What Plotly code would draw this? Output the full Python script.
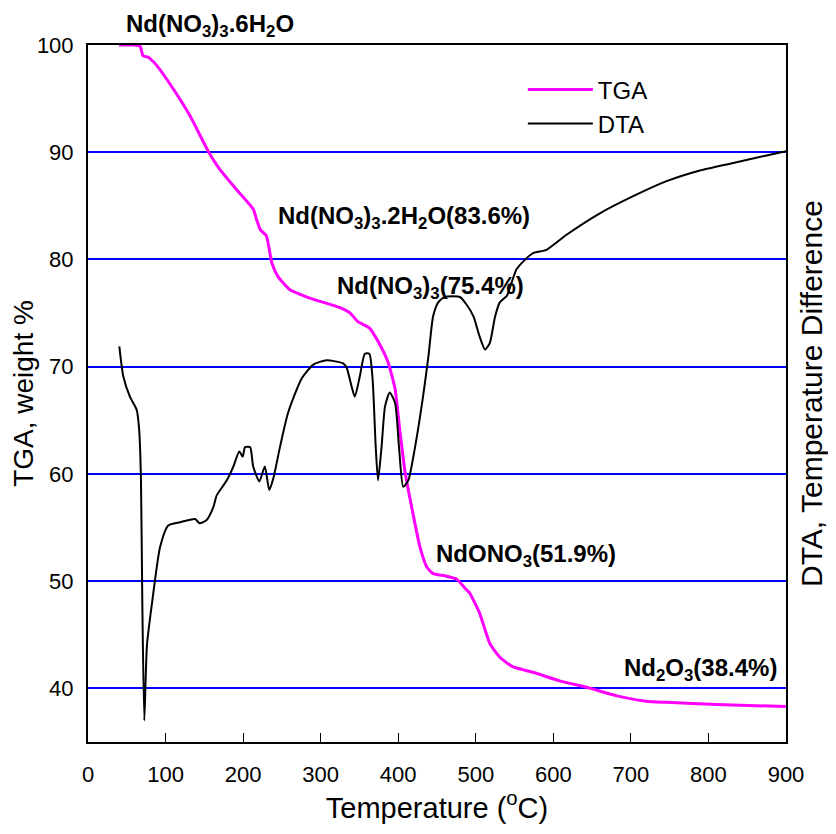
import plotly.graph_objects as go

# TGA (weight %) vs temperature (°C)
tga_T = [40, 58, 67, 71, 77.8, 82, 88.5, 110, 131.5, 155, 170, 191.7, 213, 217.5, 222, 230, 237, 245,
         260, 286, 325, 338, 348, 363, 376, 387, 396, 402, 409, 419, 428, 437, 445,
         460, 475, 488, 492, 505, 518, 531, 548, 574, 608, 643, 682, 720, 746, 811, 900]
tga_W = [100, 100, 99.9, 99.0, 98.85, 98.6, 98.1, 95.9, 93.4, 90.1, 88.4, 86.5, 84.7, 83.7, 82.8, 82.2, 79.7, 78.4,
         77.2, 76.4, 75.5, 75.0, 74.2, 73.6, 72.1, 70.4, 67.9, 64.1, 60.1, 56.3, 53.2, 51.3, 50.7,
         50.5, 50.2, 49.2, 48.9, 47.0, 44.2, 42.9, 42.0, 41.5, 40.7, 40.1, 39.3, 38.8, 38.7, 38.5, 38.3]

# DTA (temperature difference, arbitrary units) vs temperature (°C)
dta_T = [40.4, 45.5, 54, 62.7, 66, 68.3, 70, 72.6, 76, 83, 93, 103.5, 118.6, 138, 144, 153, 161.6, 166,
         179, 187.5, 195, 199.5, 202.5, 209, 213, 221, 228, 233.7, 239, 247.5, 258, 275.5, 290.5,
         307.7, 329, 333.5, 338.7, 344, 350.5, 357, 362.7, 367, 371, 374, 378.5, 383, 389, 396, 401,
         406.5, 413, 419.5, 432, 439, 445, 451.6, 460, 479.6, 488, 497, 505, 512, 518, 525, 531, 540,
         546, 552.7, 561, 574, 591, 617, 660, 703, 746, 789, 832, 875, 900]
dta_V = [71.9, 69.1, 67.2, 66.0, 64.1, 59.4, 48.2, 37.0, 44.0, 48.2, 53.2, 55.2, 55.5, 55.8, 55.4, 55.7, 56.9, 58.0,
         59.4, 60.7, 62.1, 61.6, 62.5, 62.5, 60.7, 59.3, 60.7, 58.5, 59.6, 62.5, 65.7, 68.9, 70.2,
         70.6, 70.3, 69.9, 68.5, 67.2, 69.1, 71.2, 71.2, 68.8, 62.5, 59.4, 62.5, 66.3, 67.6, 66.6, 62.5,
         58.8, 59.4, 61.6, 67.2, 71.0, 74.7, 76.0, 76.5, 76.5, 75.8, 74.7, 72.8, 71.6, 72.2, 74.7, 76.0, 76.6,
         77.8, 79.1, 79.8, 80.6, 80.9, 82.3, 84.3, 85.9, 87.3, 88.3, 89.0, 89.7, 90.1]

x_ticks = [0, 100, 200, 300, 400, 500, 600, 700, 800, 900]
y_ticks = [40, 50, 60, 70, 80, 90, 100]

# (text, x in °C, y, y reference)
labels = [
    ("<b>Nd(NO<sub>3</sub>)<sub>3</sub>.6H<sub>2</sub>O</b>", 47, 1.028, "paper"),
    ("<b>Nd(NO<sub>3</sub>)<sub>3</sub>.2H<sub>2</sub>O(83.6%)</b>", 243, 83.9, "y"),
    ("<b>Nd(NO<sub>3</sub>)<sub>3</sub>(75.4%)</b>", 318, 77.4, "y"),
    ("<b>NdONO<sub>3</sub>(51.9%)</b>", 446, 52.4, "y"),
    ("<b>Nd<sub>2</sub>O<sub>3</sub>(38.4%)</b>", 689, 41.8, "y"),
]

FONT = "Arial, Liberation Sans, sans-serif"

fig = go.Figure()
fig.add_trace(go.Scatter(x=tga_T, y=tga_W, mode="lines", name="TGA",
                         line=dict(color="#FF00FF", width=3, shape="spline", smoothing=0.5),
                         yaxis="y"))
fig.add_trace(go.Scatter(x=dta_T, y=dta_V, mode="lines", name="DTA",
                         line=dict(color="black", width=2, shape="spline", smoothing=0.6),
                         yaxis="y2"))

for txt, xv, yv, yr in labels:
    fig.add_annotation(x=xv, y=yv, xref="x", yref=yr, text=txt, showarrow=False,
                       xanchor="left", yanchor="middle",
                       font=dict(family=FONT, size=24, color="black"))

fig.update_layout(
    width=820, height=818,
    margin=dict(l=80, r=42, t=37, b=84),
    paper_bgcolor="white", plot_bgcolor="white",
    font=dict(family=FONT, color="black"),
    showlegend=True,
    legend=dict(x=0.623, y=0.968, xanchor="left", yanchor="top",
                bgcolor="rgba(0,0,0,0)", borderwidth=0,
                font=dict(family=FONT, size=24, color="black"),
                itemwidth=65, tracegroupgap=0),
    xaxis=dict(range=[0, 900], tickvals=x_ticks, ticks="inside", ticklen=9, tickwidth=1,
               tickcolor="black", showline=True, linecolor="black", linewidth=2, mirror=True,
               showgrid=False, zeroline=False, ticklabelstandoff=12, automargin=False,
               tickfont=dict(family=FONT, size=22, color="black"),
               title=dict(text="Temperature (<sup>o</sup>C)", standoff=0,
                          font=dict(family=FONT, size=29, color="black"))),
    yaxis=dict(range=[35, 100], tickvals=y_ticks, ticks="", showline=True, linecolor="black",
               linewidth=2, mirror=True, showgrid=True, gridcolor="#0000FF", gridwidth=2,
               zeroline=False, ticklabelstandoff=8, automargin=False,
               tickfont=dict(family=FONT, size=22, color="black"),
               title=dict(text="TGA, weight %", standoff=2,
                          font=dict(family=FONT, size=28, color="black"))),
    yaxis2=dict(range=[35, 100], overlaying="y", side="right", showgrid=False, zeroline=False,
                showticklabels=False, ticks="", showline=False, automargin=False,
                title=dict(text="DTA, Temperature Difference", standoff=20,
                           font=dict(family=FONT, size=30, color="black"))),
)

fig.write_html("out.html")
